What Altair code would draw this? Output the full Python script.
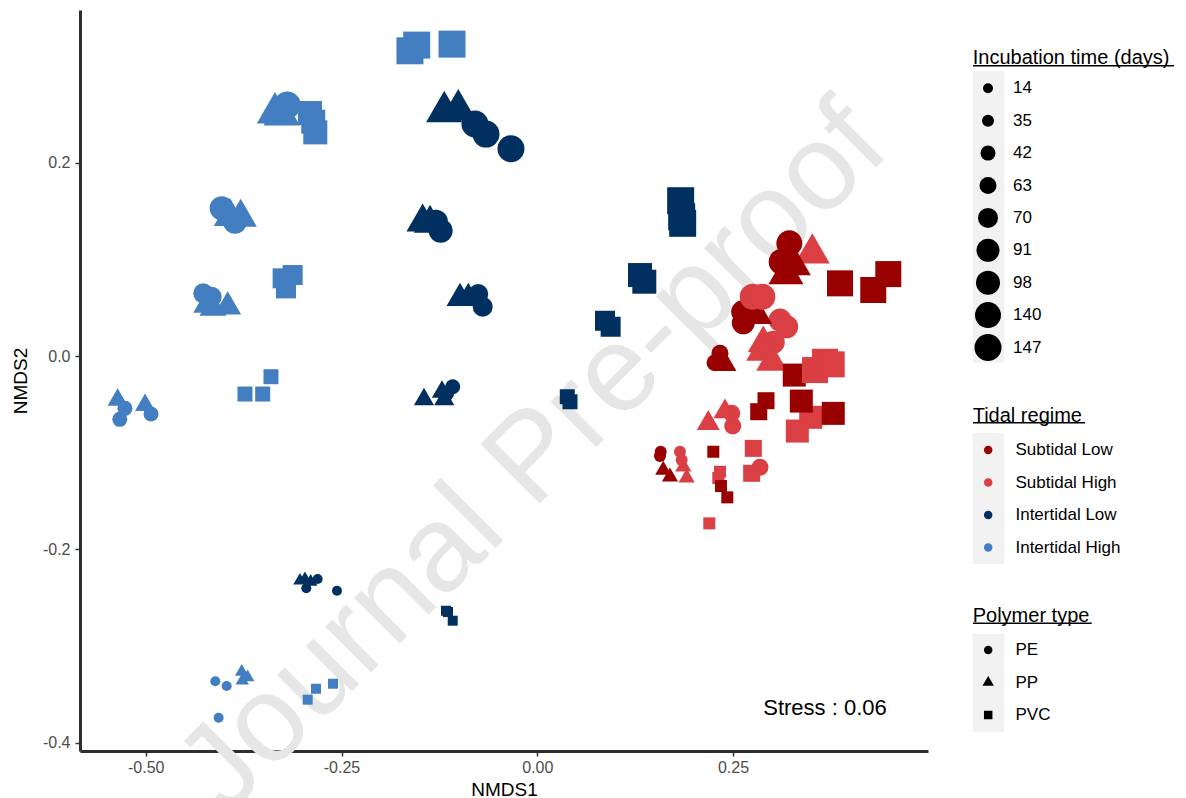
import altair as alt
import pandas as pd

# ---- data ----
nmds1 = [
    -0.4112, -0.3967, -0.4069, -0.3775, -0.3699, -0.3768, -0.2609, -0.2826, -0.2932,
    -0.2805, -0.2950, -0.2558, -0.3031, -0.2967, -0.2894, -0.1166, -0.1080, -0.1140,
    0.1822, 0.1844, 0.1865, 0.1908, 0.2333, 0.2312, 0.2197,
    0.1576, 0.1567, 0.1609, 0.1695, 0.2248, 0.2346, 0.2427,
    -0.5266, -0.5332, -0.4933, -0.5359, -0.5009, -0.3401, -0.3733, -0.3507,
    -0.1080, -0.1157, -0.1447, -0.1188, -0.1217, 0.0383, 0.0418,
    0.2483, 0.2496, 0.2844, 0.2184, 0.2397, 0.2759, 0.2738,
    0.2333, 0.2270, 0.2397, 0.2828, 0.2921,
    -0.4266, -0.4158, -0.4222, -0.3954, -0.4142, -0.3252, -0.3124, -0.3209,
    -0.0754, -0.0697, -0.0987, -0.0881, 0.0865, 0.0937,
    0.3100, 0.3185, 0.3014, 0.2886, 0.2866, 0.2994, 0.3492, 0.3321,
    0.2623, 0.2631, 0.2802, 0.3282, 0.3372, 0.3780,
    -0.4031, -0.3861, -0.3925, -0.3788, -0.2903, -0.2861, -0.2835,
    -0.1294, -0.1234, -0.1464, -0.1370, 0.1312, 0.1367,
    0.2751, 0.2874, 0.3512, 0.3547, 0.3674, 0.3760,
    0.3219, 0.3121, 0.3270, 0.3176, 0.3866, 0.4291, 0.4483,
    -0.3193, -0.3350, -0.3264, -0.1626, -0.1540, -0.1089,
    -0.0796, -0.0655, -0.0336, -0.1188, -0.1009, 0.1831, 0.1844, 0.1857,
]
nmds2 = [
    -0.3365, -0.3414, -0.3742, -0.3266, -0.3324, -0.3359, -0.3390, -0.3442, -0.3555,
    -0.2307, -0.2403, -0.2428, -0.2324, -0.2310, -0.2335, -0.2635, -0.2738, -0.2648,
    -0.0990, -0.1076, -0.1145, -0.1259, -0.1197, -0.1262, -0.1731,
    -0.0990, -0.1034, -0.1179, -0.1249, -0.0990, -0.1345, -0.1462,
    -0.0541, -0.0655, -0.0600, -0.0455, -0.0507, -0.0214, -0.0393, -0.0393,
    -0.0318, -0.0386, -0.0448, -0.0448, -0.0372, -0.0421, -0.0473,
    -0.0593, -0.0724, -0.1151, -0.0696, -0.0576, -0.0955, -0.1213,
    0.0028, -0.0069, -0.0086, -0.0576, -0.0462,
    0.0649, 0.0613, 0.0528, 0.0510, 0.0497, 0.0804, 0.0838, 0.0700,
    0.0641, 0.0510, 0.0597, 0.0597, 0.0365, 0.0303,
    0.0372, 0.0303, 0.0142, 0.0131, 0.0044, -0.0059, -0.0634, -0.0776,
    0.0458, 0.0344, 0.0424, -0.0197, -0.0466, -0.0593,
    0.1528, 0.1389, 0.1441, 0.1435, 0.2514, 0.2424, 0.2314,
    0.1389, 0.1296, 0.1386, 0.1373, 0.0838, 0.0769,
    0.0613, 0.0613, 0.1062, -0.0145, -0.0059, -0.0086,
    0.1166, 0.0975, 0.0941, 0.0848, 0.0752, 0.0683, 0.0848,
    0.2596, 0.2514, 0.2493, 0.3158, 0.3217, 0.3227,
    0.2400, 0.2296, 0.2144, 0.2527, 0.2545, 0.1607, 0.1441, 0.1373,
]
regime_code = (
    ["IH"] * 9 + ["IL"] * 9 + ["SH"] * 7 + ["SL"] * 7 + ["IH"] * 8 + ["IL"] * 7
    + ["SH"] * 7 + ["SL"] * 5 + ["IH"] * 8 + ["IL"] * 6 + ["SH"] * 8 + ["SL"] * 6
    + ["IH"] * 7 + ["IL"] * 6 + ["SH"] * 6 + ["SL"] * 7 + ["IH"] * 6 + ["IL"] * 8
)
polymer = (
    ["PE"] * 3 + ["PP"] * 3 + ["PVC"] * 3 + ["PE"] * 3 + ["PP"] * 3 + ["PVC"] * 3
    + ["PE"] * 2 + ["PP"] * 2 + ["PVC"] * 3 + ["PE"] * 2 + ["PP"] * 2 + ["PVC"] * 3
    + ["PE"] * 3 + ["PP"] * 2 + ["PVC"] * 3 + ["PE"] * 2 + ["PP"] * 3 + ["PVC"] * 2
    + ["PE"] * 3 + ["PP"] * 2 + ["PVC"] * 2 + ["PE"] * 2 + ["PP"] * 1 + ["PVC"] * 2
    + ["PE"] * 2 + ["PP"] * 3 + ["PVC"] * 3 + ["PE"] * 2 + ["PP"] * 2 + ["PVC"] * 2
    + ["PE"] * 3 + ["PP"] * 3 + ["PVC"] * 2 + ["PE"] * 2 + ["PP"] * 1 + ["PVC"] * 3
    + ["PE"] * 2 + ["PP"] * 2 + ["PVC"] * 3 + ["PE"] * 2 + ["PP"] * 2 + ["PVC"] * 2
    + ["PE"] * 2 + ["PP"] * 1 + ["PVC"] * 3 + ["PE"] * 2 + ["PP"] * 2 + ["PVC"] * 3
    + ["PE"] * 1 + ["PP"] * 2 + ["PVC"] * 3 + ["PE"] * 3 + ["PP"] * 2 + ["PVC"] * 3
)
days = (
    [14] * 18 + [35] * 14 + [42] * 15 + [63] * 12 + [70] * 14 + [91] * 14
    + [98] * 13 + [140] * 13 + [147] * 14
)

day_levels = [14, 35, 42, 63, 70, 91, 98, 140, 147]
regime_names = {"SL": "Subtidal Low", "SH": "Subtidal High",
                "IL": "Intertidal Low", "IH": "Intertidal High"}
regime_order = ["Subtidal Low", "Subtidal High", "Intertidal Low", "Intertidal High"]
regime_colors = ["#990000", "#D93F43", "#00305F", "#427EC0"]
polymer_order = ["PE", "PP", "PVC"]

# R-style filled triangle (pch 17): same area as the circle, larger extent
TRIANGLE = "M0,-1.555L1.347,0.778L-1.347,0.778Z"

df = pd.DataFrame({
    "NMDS1": nmds1,
    "NMDS2": nmds2,
    "regime": [regime_names[c] for c in regime_code],
    "polymer": polymer,
    "days": days,
})
df["idx"] = range(len(df))

FONT = "Liberation Sans"
W, H = 848, 741

one = pd.DataFrame({"k": [0]})

watermark = alt.Chart(one).mark_text(
    text="Journal Pre-proof", font=FONT, fontSize=122, angle=315,
    color="#E6E6E6", align="center", baseline="middle"
).encode(x=alt.value(453), y=alt.value(448))

def keybg(y1, y2):
    return alt.Chart(one).mark_rect(color="#F2F2F2").encode(
        x=alt.value(892.7), x2=alt.value(924.3), y=alt.value(y1), y2=alt.value(y2))

def underline(x2, y):
    return alt.Chart(one).mark_rule(color="black", strokeWidth=1.4).encode(
        x=alt.value(893), x2=alt.value(x2), y=alt.value(y))

points = alt.Chart(df).mark_point(filled=True, opacity=1, strokeWidth=0).encode(
    x=alt.X("NMDS1:Q",
            scale=alt.Scale(domain=[-0.584, 0.499], nice=False, zero=False),
            axis=alt.Axis(values=[-0.5, -0.25, 0, 0.25],
                          labelExpr="datum.value < 0 ? '-' + format(-datum.value, '.2f') : format(datum.value, '.2f')",
                          title="NMDS1", titlePadding=5)),
    y=alt.Y("NMDS2:Q",
            scale=alt.Scale(domain=[-0.4086, 0.358], nice=False, zero=False),
            axis=alt.Axis(values=[-0.4, -0.2, 0, 0.2],
                          labelExpr="datum.value < 0 ? '-' + format(-datum.value, '.1f') : format(datum.value, '.1f')",
                          title="NMDS2", titlePadding=12, labelPadding=5)),
    size=alt.Size("days:O", scale=alt.Scale(type="ordinal", domain=day_levels,
                  range=[100, 144, 225, 289, 400, 529, 576, 676, 729]),
                  legend=alt.Legend(title="Incubation time (days)", orient="none",
                                    legendX=892.7, legendY=37.5,
                                    symbolType="circle", symbolFillColor="black",
                                    symbolStrokeWidth=0, symbolOpacity=1,
                                    symbolOffset=1.8, labelOffset=11.5,
                                    clipHeight=27, rowPadding=5.4, titlePadding=7.3)),
    color=alt.Color("regime:N", scale=alt.Scale(domain=regime_order, range=regime_colors),
                    legend=alt.Legend(title="Tidal regime", orient="none",
                                      legendX=892.7, legendY=395.9,
                                      symbolType="circle", symbolSize=72,
                                      symbolStrokeWidth=0, symbolOpacity=1,
                                      symbolOffset=7, labelOffset=18.75,
                                      rowPadding=14.5, titlePadding=15.6)),
    shape=alt.Shape("polymer:N", scale=alt.Scale(domain=polymer_order,
                    range=["circle", TRIANGLE, "square"]),
                    legend=alt.Legend(title="Polymer type", orient="none",
                                      legendX=892.7, legendY=595.9,
                                      symbolSize=72, symbolFillColor="black",
                                      symbolStrokeWidth=0, symbolOpacity=1,
                                      symbolOffset=7, labelOffset=18.75,
                                      rowPadding=14.5, titlePadding=15.6)),
    order=alt.Order("idx:Q"),
)

stress = alt.Chart(one).mark_text(
    text="Stress : 0.06", font=FONT, fontSize=22, color="black",
    align="center", baseline="middle"
).encode(x=alt.value(745), y=alt.value(698))

chart = alt.layer(
    watermark,
    keybg(61, 352.7), keybg(422.7, 554), keybg(624, 721.7),
    points, stress,
    underline(1094, 55.7), underline(1005, 412.7), underline(1011.7, 613.3),
).properties(
    width=W, height=H,
    padding={"left": 72, "top": 2, "right": 250, "bottom": 47},
    autosize="none",
).configure(font=FONT).configure_view(stroke=None).configure_axis(
    grid=False, domainColor="#2E2E2E", domainWidth=3,
    tickColor="#333333", tickWidth=1.5, tickSize=5,
    labelColor="#4D4D4D", labelFontSize=16, labelFont=FONT, labelPadding=3,
    titleColor="black", titleFontSize=19, titleFont=FONT, titleFontWeight="normal",
    labelFlush=False,
).configure_legend(
    padding=0, titleFontSize=20, titleFont=FONT, titleFontWeight="normal",
    titleColor="black", labelFontSize=17, labelFont=FONT, labelColor="black",
    titleLimit=400, labelLimit=300,
)

chart.save("out.html", embed_options={"renderer": "svg", "actions": False})
